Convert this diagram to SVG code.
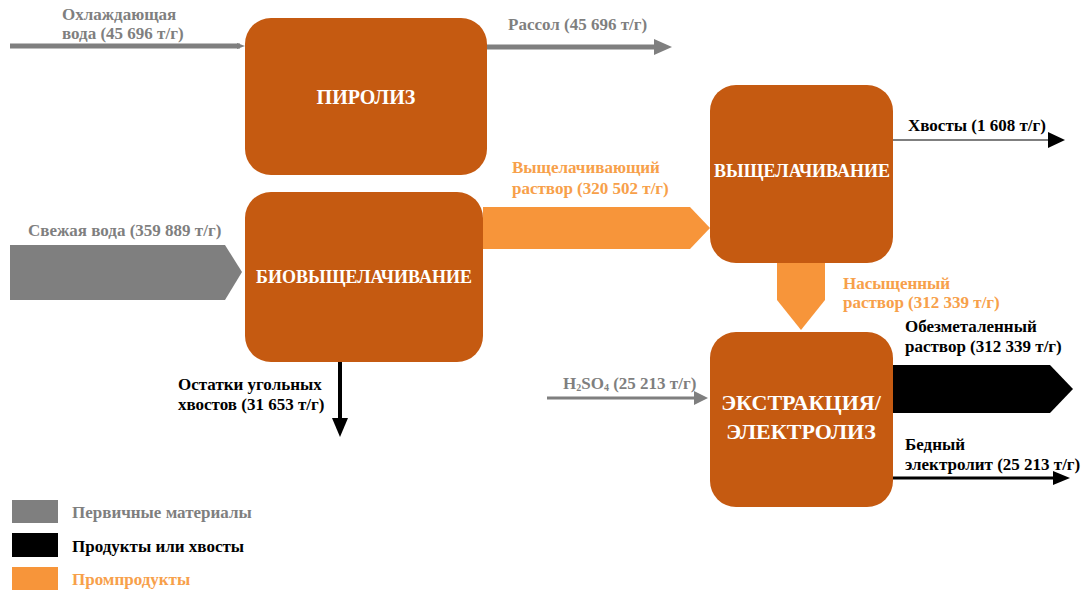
<svg xmlns="http://www.w3.org/2000/svg" width="1092" height="594" viewBox="0 0 1092 594" font-family="Liberation Serif, DejaVu Serif, serif">
<style>
.box{fill:#C55A11}
.bt{fill:#fff;font-weight:bold;text-anchor:middle}
.lb{font-weight:bold;font-size:17px}
.g{fill:#7F7F7F}
.k{fill:#000}
.o{fill:#F7A04A}
</style>
<g id="connectors">
<line x1="10" y1="46" x2="240" y2="46" stroke="#7F7F7F" stroke-width="5"/>
<path d="M237,43 L245,46 L237,49 z" fill="#7F7F7F"/>
<line x1="487" y1="47" x2="656" y2="47" stroke="#7F7F7F" stroke-width="5"/>
<path d="M654,39 L672,47 L654,55 z" fill="#7F7F7F"/>
<line x1="893" y1="140" x2="1050" y2="140" stroke="#555" stroke-width="1.5"/>
<path d="M1048,132 L1065,140 L1048,148 z" fill="#000"/>
<path d="M10,245 L225,245 L242,272 L225,300 L10,300 z" fill="#7F7F7F"/>
<path d="M483,207 L690,207 L710,228 L690,249 L483,249 z" fill="#F7953A"/>
<path d="M777,263 L825,263 L825,300 L801,330 L777,300 z" fill="#F7953A"/>
<line x1="547" y1="398" x2="698" y2="398" stroke="#7F7F7F" stroke-width="3"/>
<path d="M694,391 L708,398 L694,405 z" fill="#7F7F7F"/>
<path d="M893,365 L1050,365 L1073,389 L1050,413 L893,413 z" fill="#000"/>
<line x1="893" y1="478" x2="1055" y2="478" stroke="#000" stroke-width="3"/>
<path d="M1053,471 L1070,478 L1053,485 z" fill="#000"/>
<line x1="340" y1="362" x2="340" y2="420" stroke="#000" stroke-width="4"/>
<path d="M332,418 L340,437 L348,418 z" fill="#000"/>
</g>
<g id="piroliz"><rect class="box" x="245" y="18" width="242" height="157" rx="26"/><text class="bt" x="366" y="104" font-size="20">ПИРОЛИЗ</text></g>
<g id="biovysch"><rect class="box" x="245" y="192" width="238" height="170" rx="26"/><text class="bt" x="364" y="283" font-size="18">БИОВЫЩЕЛАЧИВАНИЕ</text></g>
<g id="vysch"><rect class="box" x="710" y="85" width="183" height="178" rx="26"/><text class="bt" x="802" y="177" font-size="18">ВЫЩЕЛАЧИВАНИЕ</text></g>
<g id="ekstr"><rect class="box" x="710" y="332" width="183" height="175" rx="26"/><text class="bt" x="801" y="410" font-size="22">ЭКСТРАКЦИЯ/</text><text class="bt" x="801" y="439" font-size="22">ЭЛЕКТРОЛИЗ</text></g>
<g id="labels">
<text class="lb g" x="62" y="20">Охлаждающая</text>
<text class="lb g" x="62" y="39">вода (45 696 т/г)</text>
<text class="lb g" x="508" y="30">Рассол (45 696 т/г)</text>
<text class="lb k" x="908" y="131">Хвосты (1 608 т/г)</text>
<text class="lb o" x="512" y="173">Выщелачивающий</text>
<text class="lb o" x="512" y="194">раствор (320 502 т/г)</text>
<text class="lb g" x="28" y="236">Свежая вода (359 889 т/г)</text>
<text class="lb o" x="843" y="289">Насыщенный</text>
<text class="lb o" x="843" y="308">раствор (312 339 т/г)</text>
<text class="lb k" x="905" y="332">Обезметаленный</text>
<text class="lb k" x="905" y="352">раствор (312 339 т/г)</text>
<text class="lb g" x="563" y="389">H<tspan font-size="10" dy="2">2</tspan><tspan dy="-2">SO</tspan><tspan font-size="10" dy="2">4</tspan><tspan dy="-2"> (25 213 т/г)</tspan></text>
<text class="lb k" x="905" y="450">Бедный</text>
<text class="lb k" x="905" y="470">электролит (25 213 т/г)</text>
<text class="lb k" x="178" y="390">Остатки угольных</text>
<text class="lb k" x="178" y="410">хвостов (31 653 т/г)</text>
</g>
<g id="legend">
<rect x="12" y="500" width="46" height="23" fill="#7F7F7F"/>
<rect x="12" y="533" width="46" height="24" fill="#000"/>
<rect x="12" y="567" width="46" height="23" fill="#F7953A"/>
<text class="lb g" x="72" y="518">Первичные материалы</text>
<text class="lb k" x="72" y="552">Продукты или хвосты</text>
<text class="lb o" x="72" y="585">Промпродукты</text>
</g>
</svg>
